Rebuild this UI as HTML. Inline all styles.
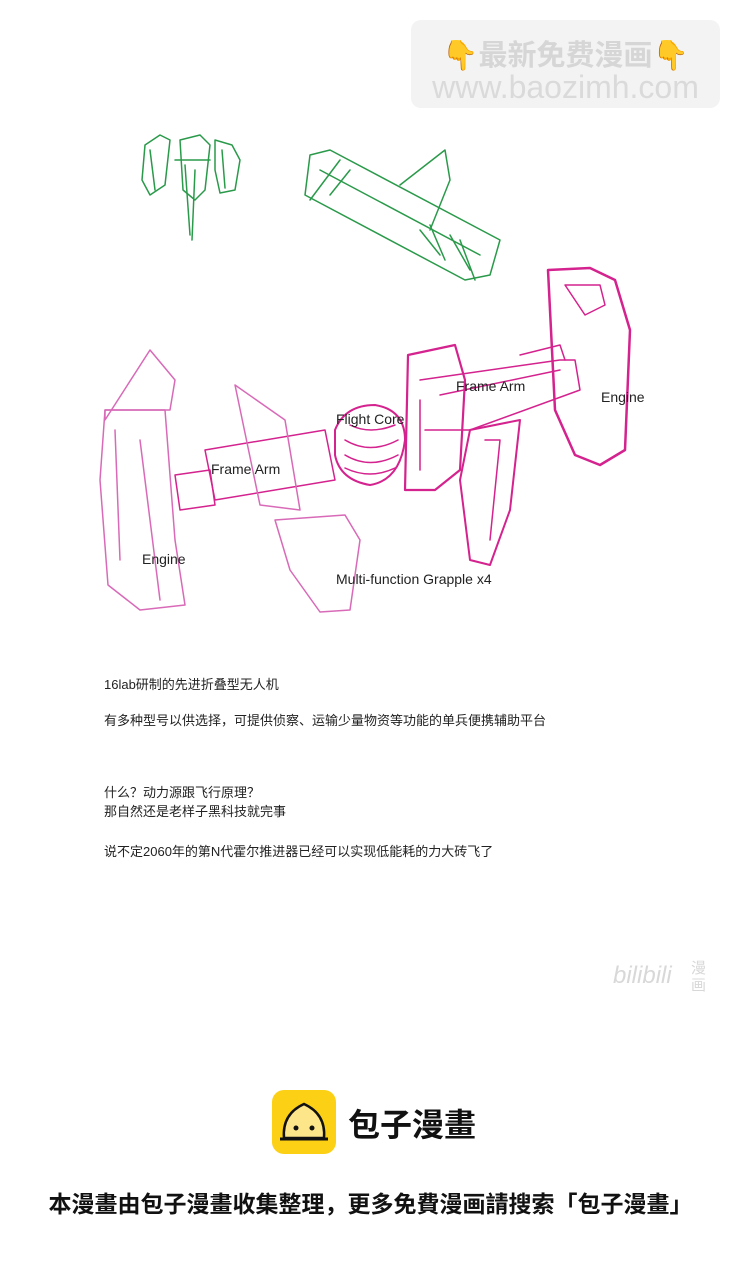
<!DOCTYPE html>
<html><head><meta charset="utf-8"><style>
html,body{margin:0;padding:0;background:#fff;}
body{width:741px;height:1285px;position:relative;overflow:hidden;font-family:"Liberation Sans","Noto Sans CJK SC",sans-serif;}
.t{position:absolute;font-size:13px;color:#222;white-space:nowrap;}
.wm{position:absolute;left:411px;top:20px;width:309px;height:88px;background:#f3f3f3;border-radius:10px;}
.wm1{position:absolute;left:0;width:100%;top:12px;text-align:center;font-size:29px;color:#d6d6d6;font-weight:bold;}
.wm2{position:absolute;left:0;width:100%;top:49px;text-align:center;font-size:32px;color:#dadada;}
.lbl{position:absolute;font-size:14px;color:#222;white-space:nowrap;}
</style></head><body>
<div class="wm"><div class="wm1">👇最新免费漫画👇</div><div class="wm2">www.baozimh.com</div></div>

<svg style="position:absolute;left:0;top:0" width="741" height="660" fill="none" stroke-linecap="round" stroke-linejoin="round">
<g stroke="#2a9a4a" stroke-width="1.5">
<path d="M145 145 L160 135 L170 140 L165 185 L150 195 L142 180 Z"/>
<path d="M180 140 L200 135 L210 145 L205 190 L195 200 L183 190 Z"/>
<path d="M215 140 L232 145 L240 160 L235 190 L220 193 L215 170 Z"/>
<path d="M175 160 L210 160 M185 165 L190 235 M195 170 L192 240 M150 150 L155 190 M222 150 L225 188"/>
<path d="M310 155 L330 150 L500 240 L490 275 L465 280 L305 195 Z"/>
<path d="M320 170 L480 255 M400 185 L445 150 L450 180 L430 230 M340 160 L310 200 M350 170 L330 195 M420 230 L440 255 M460 240 L475 280 M430 225 L445 260 M450 235 L470 270"/>
</g>
<g stroke="#d4228e" stroke-width="1.5">
<path d="M548 270 L590 268 L615 280 L630 330 L625 450 L600 465 L575 455 L555 410 Z" stroke-width="2.5"/>
<path d="M565 285 L600 285 L605 305 L585 315 Z"/>
<path d="M408 355 L455 345 L465 380 L460 470 L435 490 L405 490 Z" stroke-width="2.2"/>
<path d="M420 380 L560 360 L575 360 L580 390 L470 430 L425 430"/>
<path d="M440 395 L560 370 M520 355 L560 345 L565 360 M420 400 L420 470"/>
<path d="M470 430 L520 420 L510 510 L490 565 L470 560 L460 480 Z" stroke-width="2"/>
<path d="M485 440 L500 440 L490 540"/>
<path d="M335 430 Q345 405 375 405 Q405 410 405 440 Q400 480 370 485 Q340 480 335 455 Z" stroke-width="2"/>
<path d="M345 440 Q370 455 398 440 M345 455 Q370 470 398 455 M350 425 Q370 435 395 425 M345 468 Q370 480 395 468"/>
<path d="M205 450 L325 430 L335 480 L215 500 Z"/>
<path d="M175 475 L210 470 L215 505 L180 510 Z"/>
<path d="M235 385 L285 420 L300 510 L260 505 Z" stroke="#d86ab8"/>
<path d="M275 520 L345 515 L360 540 L350 610 L320 612 L290 570 Z" stroke="#d86ab8"/>
<path d="M105 420 L150 350 L175 380 L170 410 L105 410 Z" stroke="#d86ab8"/>
<path d="M105 410 L165 410 L175 540 L185 605 L140 610 L108 585 L100 480 Z" stroke="#d86ab8"/>
<path d="M115 430 L120 560 M140 440 L160 600" stroke="#d86ab8"/>
</g>
</svg>
<div class="lbl" style="left:456px;top:378px">Frame Arm</div>
<div class="lbl" style="left:601px;top:389px">Engine</div>
<div class="lbl" style="left:336px;top:411px">Flight Core</div>
<div class="lbl" style="left:211px;top:461px">Frame Arm</div>
<div class="lbl" style="left:142px;top:551px">Engine</div>
<div class="lbl" style="left:336px;top:571px">Multi-function Grapple x4</div>

<div class="t" style="left:104px;top:674px">16lab研制的先进折叠型无人机</div>
<div class="t" style="left:104px;top:710px">有多种型号以供选择，可提供侦察、运输少量物资等功能的单兵便携辅助平台</div>
<div class="t" style="left:104px;top:782px">什么？动力源跟飞行原理？</div>
<div class="t" style="left:104px;top:801px">那自然还是老样子黑科技就完事</div>
<div class="t" style="left:104px;top:841px">说不定2060年的第N代霍尔推进器已经可以实现低能耗的力大砖飞了</div>

<div style="position:absolute;left:613px;top:962px;font-size:24px;color:#d8d8d8;font-style:italic">bilibili</div>
<div style="position:absolute;left:691px;top:960px;font-size:15px;line-height:17px;color:#d8d8d8;width:16px">漫画</div>

<div style="position:absolute;left:272px;top:1090px;width:64px;height:64px;background:#fcd015;border-radius:12px;overflow:hidden">
<svg width="64" height="64"><path d="M12 48 Q10 24 32 14 Q54 24 52 48 Z" fill="#fde68a" stroke="#111" stroke-width="2.5"/><path d="M8 49 L56 49" stroke="#111" stroke-width="3"/><circle cx="24" cy="38" r="2.5" fill="#111"/><circle cx="40" cy="38" r="2.5" fill="#111"/></svg></div>
<div style="position:absolute;left:348px;top:1100px;font-size:32px;font-weight:bold;color:#111">包子漫畫</div>
<div style="position:absolute;left:0;width:741px;top:1185px;text-align:center;font-size:23px;font-weight:bold;color:#111">本漫畫由包子漫畫收集整理，更多免費漫画請搜索「包子漫畫」</div>
</body></html>
